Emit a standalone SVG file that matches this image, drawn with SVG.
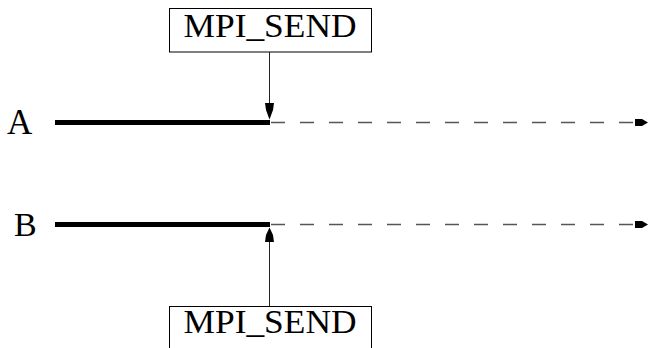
<svg xmlns="http://www.w3.org/2000/svg" width="649" height="348" viewBox="0 0 649 348">
  <style>
    .label { font-family: "Liberation Serif", "DejaVu Serif", serif; fill: #000; }
    .box { fill: #fff; stroke: #000; stroke-width: 1; }
    .proc { stroke: #000; stroke-width: 5; fill: none; }
    .future { stroke: #555; stroke-width: 1.3; stroke-dasharray: 14 15; fill: none; }
    .call { stroke: #222; stroke-width: 1; fill: none; }
    .head { fill: #000; }
  </style>
  <defs>
    <marker id="tip" viewBox="0 0 13 10" refX="13" refY="5" markerWidth="13" markerHeight="10" markerUnits="userSpaceOnUse" orient="auto">
      <path d="M0,1.5 L7,1.5 L13,5 L7,8.5 L0,8.5 Z" class="head"/>
    </marker>
  </defs>

  <!-- process timelines -->
  <g id="connectors">
    <line class="proc" x1="55" y1="122.5" x2="270" y2="122.5"/>
    <line class="future" x1="271" y1="122.5" x2="648" y2="122.5" marker-end="url(#tip)"/>
    <line class="proc" x1="55" y1="224.5" x2="270" y2="224.5"/>
    <line class="future" x1="271" y1="224.5" x2="648" y2="224.5" marker-end="url(#tip)"/>
    <!-- send calls onto each timeline -->
    <line class="call" x1="269.5" y1="52" x2="269.5" y2="105"/>
    <path class="head" d="M265,103 L274,103 L273,110 L269.5,119.5 L266,110 Z"/>
    <line class="call" x1="269.5" y1="306" x2="269.5" y2="240"/>
    <path class="head" d="M265,242 L274,242 L273,235 L269.5,227.5 L266,235 Z"/>
  </g>

  <g id="proc-a">
    <text class="label" x="7" y="134" font-size="35">A</text>
  </g>
  <g id="proc-b">
    <text class="label" x="14" y="236" font-size="34">B</text>
  </g>

  <g id="send-a">
    <rect class="box" x="169.5" y="8.5" width="202" height="43.5"/>
    <text class="label" x="270" y="37" font-size="33" text-anchor="middle" textLength="173" lengthAdjust="spacingAndGlyphs">MPI_SEND</text>
  </g>
  <g id="send-b">
    <rect class="box" x="169.5" y="306.5" width="202" height="50"/>
    <text class="label" x="270" y="333" font-size="33" text-anchor="middle" textLength="173" lengthAdjust="spacingAndGlyphs">MPI_SEND</text>
  </g>
</svg>
